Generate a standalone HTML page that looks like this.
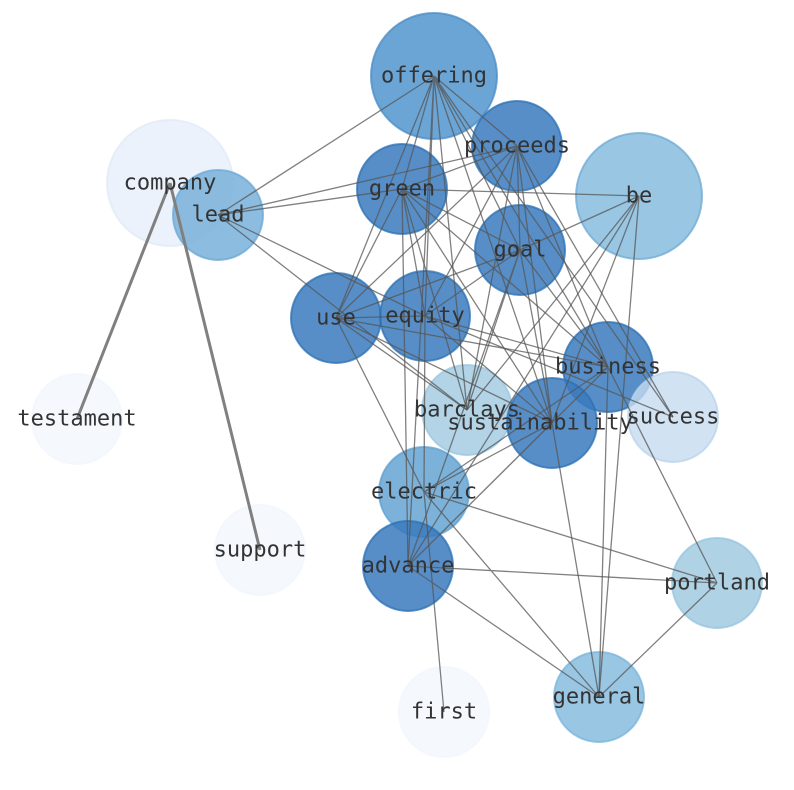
<!DOCTYPE html>
<html><head><meta charset="utf-8"><style>body{margin:0;background:#fff}svg{display:block}</style></head><body>
<svg width="794" height="790" viewBox="0 0 794 790" xmlns="http://www.w3.org/2000/svg" font-family="DejaVu Sans Mono, Liberation Mono, monospace" font-size="22">
<g stroke-width="2" stroke-opacity="0.75">
<circle cx="434" cy="76" r="63" fill="#5b9bd0" stroke="#4a8cc7" fill-opacity="0.9"/>
<circle cx="170" cy="183" r="63" fill="#e9f1fb" stroke="#e0eaf7" fill-opacity="0.9"/>
<circle cx="639" cy="196" r="63" fill="#8ec0e0" stroke="#6eaad6" fill-opacity="0.9"/>
<circle cx="517" cy="146" r="45" fill="#3a7abd" stroke="#2b70b4" fill-opacity="0.85"/>
<circle cx="218" cy="215" r="45" fill="#7fb5dc" stroke="#6aa8d6" fill-opacity="0.9"/>
<circle cx="402" cy="189" r="45" fill="#3a7abd" stroke="#2b70b4" fill-opacity="0.85"/>
<circle cx="520" cy="250" r="45" fill="#3a7abd" stroke="#2b70b4" fill-opacity="0.85"/>
<circle cx="336" cy="318" r="45" fill="#3a7abd" stroke="#2b70b4" fill-opacity="0.85"/>
<circle cx="425" cy="316" r="45" fill="#3a7abd" stroke="#2b70b4" fill-opacity="0.85"/>
<circle cx="608" cy="367" r="45" fill="#3a7abd" stroke="#2b70b4" fill-opacity="0.85"/>
<circle cx="467" cy="410" r="45" fill="#a6cde3" stroke="#9ac6df" fill-opacity="0.85"/>
<circle cx="552" cy="423" r="45" fill="#3a7abd" stroke="#2b70b4" fill-opacity="0.85"/>
<circle cx="673" cy="417" r="45" fill="#c6dbef" stroke="#b8d3ec" fill-opacity="0.8"/>
<circle cx="77" cy="419" r="45" fill="#f5f9fe" stroke="#f0f6fd"/>
<circle cx="424" cy="492" r="45" fill="#6eaad6" stroke="#5e9fd0" fill-opacity="0.9"/>
<circle cx="260" cy="550" r="45" fill="#f5f9fe" stroke="#f0f6fd"/>
<circle cx="408" cy="566" r="45" fill="#3a7abd" stroke="#2b70b4" fill-opacity="0.85"/>
<circle cx="717" cy="583" r="45" fill="#a6cde2" stroke="#96c4df" fill-opacity="0.9"/>
<circle cx="599" cy="697" r="45" fill="#8ec0e0" stroke="#7ab4db" fill-opacity="0.9"/>
<circle cx="444" cy="712" r="45" fill="#f5f9fe" stroke="#f0f6fd"/>
</g>
<g stroke="#555" stroke-opacity="0.75" stroke-width="1.3" fill="none">
<path d="M434 76L218 215M434 76L402 189M434 76L517 146M434 76L520 250M434 76L425 316M434 76L336 318M434 76L552 423M434 76L608 367M434 76L673 417M434 76L467 410M434 76L408 566"/>
<path d="M517 146L218 215M517 146L402 189M517 146L336 318M517 146L520 250M517 146L608 367M517 146L552 423M517 146L673 417M517 146L467 410M517 146L425 316"/>
<path d="M402 189L218 215M402 189L639 196M402 189L520 250M402 189L336 318M402 189L425 316M402 189L408 566M402 189L608 367M402 189L552 423M402 189L467 410"/>
<path d="M218 215L467 410M218 215L425 316M639 196L520 250M639 196L467 410M639 196L552 423M639 196L599 697M639 196L408 566"/>
<path d="M520 250L336 318M520 250L425 316M520 250L467 410M520 250L552 423M520 250L408 566M520 250L608 367"/>
<path d="M336 318L425 316M336 318L467 410M336 318L552 423M336 318L608 367M336 318L424 492"/>
<path d="M425 316L608 367M425 316L673 417M425 316L552 423M425 316L424 492"/>
<path d="M608 367L424 492M608 367L408 566M608 367L599 697M608 367L717 583M552 423L599 697M552 423L424 492M552 423L408 566"/>
<path d="M424 492L717 583M424 492L599 697M424 492L444 712M408 566L717 583M408 566L599 697M717 583L599 697"/>
</g>
<g stroke="#808080" stroke-width="3"><path d="M170 183L77 419M170 183L260 550"/></g>
<g fill="#333" text-anchor="middle" dominant-baseline="central">
<text x="434" y="76">offering</text><text x="517" y="146">proceeds</text><text x="170" y="183">company</text>
<text x="218" y="215">lead</text><text x="402" y="189">green</text><text x="639" y="196">be</text>
<text x="520" y="250">goal</text><text x="336" y="318">use</text><text x="425" y="316">equity</text>
<text x="608" y="367">business</text><text x="467" y="410">barclays</text><text x="540" y="423">sustainability</text>
<text x="673" y="417">success</text><text x="77" y="419">testament</text><text x="424" y="492">electric</text>
<text x="260" y="550">support</text><text x="408" y="566">advance</text><text x="717" y="583">portland</text>
<text x="599" y="697">general</text><text x="444" y="712">first</text>
</g>
</svg>
</body></html>
